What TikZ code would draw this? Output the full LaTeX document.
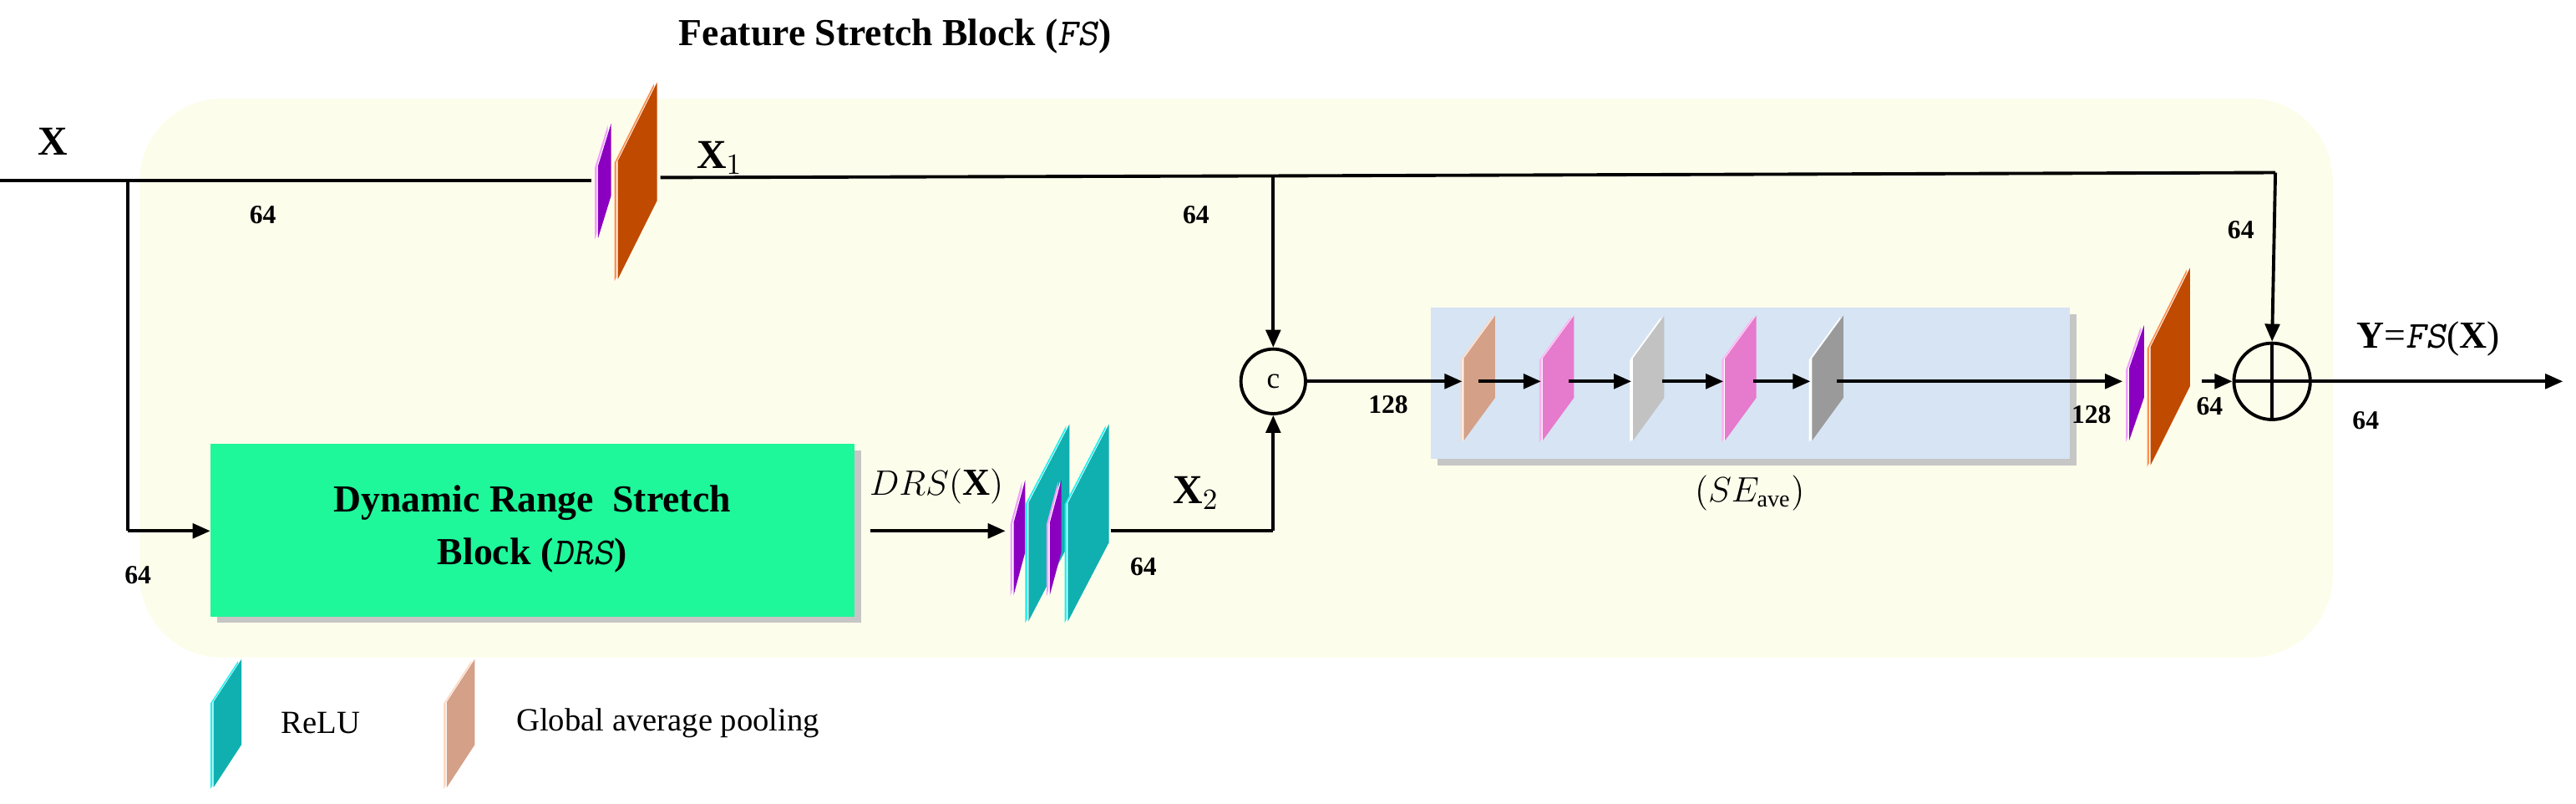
\documentclass[tikz,border=0pt]{standalone}
\usepackage{fontspec}
\setmainfont{Liberation Serif}
\usetikzlibrary{arrows.meta}
\definecolor{bgY}{HTML}{FDFDEB}
\definecolor{seB}{HTML}{D6E4F4}
\definecolor{drsG}{HTML}{1EF79A}
\definecolor{purp}{HTML}{8B00C0}
\definecolor{purpE}{HTML}{F0A0FF}
\definecolor{oran}{HTML}{C04A00}
\definecolor{oranE}{HTML}{FF9050}
\definecolor{teal}{HTML}{10B0B0}
\definecolor{tealE}{HTML}{20F0F0}
\definecolor{tan}{HTML}{D4A088}
\definecolor{tanE}{HTML}{FFD8C0}
\definecolor{pnk}{HTML}{E67ACD}
\definecolor{pnkE}{HTML}{FFB0F0}
\definecolor{lgray}{HTML}{C2C2C2}
\definecolor{dgray}{HTML}{9A9A9A}
\newcommand\myplane[7]{% fill, edge, x, w, yc, h, slant
  \fill[#2] ({#3-2},{#5-#6/2+#7/2+1}) -- ++(0,#6) -- ++(#4,-#7) -- ++(0,-#6) -- cycle;
  \fill[white] ({#3-0.7},{#5-#6/2+#7/2+0.5}) -- ++(0,#6) -- ++(#4,-#7) -- ++(0,-#6) -- cycle;
  \fill[#1] ({#3},{#5-#6/2+#7/2}) -- ++(0,#6) -- ++(#4,-#7) -- ++(0,-#6) -- cycle;}
\tikzset{
  flow/.style={line width=1.1pt,-{Triangle[length=6pt,width=5pt]}},
  ln/.style={line width=1.1pt},
  num/.style={font=\fontsize{9}{10}\selectfont\bfseries},
  big/.style={font=\fontsize{13}{15}\selectfont\bfseries},
}
\begin{document}
\begin{tikzpicture}[x=0.01967cm,y=-0.01967cm]
\useasboundingbox (0,0) rectangle (1568,489);
% background
\fill[bgY, rounded corners=28] (85,60) rectangle (1420,400);
\node[font=\fontsize{13}{15}\selectfont\bfseries] (title) at (545,22) {Feature Stretch Block (\textmd{\textsl{\texttt{FS}}})};
% SE block
\fill[gray!45] (875,191) rectangle (1264,283);
\fill[seB] (871,187) rectangle (1260,279);
\node[font=\fontsize{12}{14}\selectfont] (selab) at (1065,300) {$(SE_{\mathrm{ave}})$};
% DRS block
\fill[gray!45] (132,274) rectangle (524,379);
\fill[drsG] (128,270) rectangle (520,375);
\node[big, align=center] (drs) at (324,322) {Dynamic Range~ Stretch\\[3pt]Block (\textmd{\textsl{\texttt{DRS}}})};
\coordinate (drsW) at (128,323);
\coordinate (drsE) at (530,323);
% coordinates
\coordinate (in) at (0,110);
\coordinate (br) at (78,110);
\coordinate (brD) at (78,323);
\coordinate (s1in) at (360,110);
\coordinate (s1out) at (402,108);
\coordinate (tap) at (775,107);
\coordinate (corner) at (1385,105);
\coordinate (s2in) at (612,323);
\coordinate (s2out) at (676,323);
\coordinate (x2c) at (775,323);
\node[circle, draw, line width=1.1pt, minimum size=22pt, inner sep=0pt, font=\fontsize{10}{10}\selectfont] (cat) at (775,232) {c};
\node[circle, draw, line width=1.1pt, minimum size=26pt, inner sep=0pt] (plus) at (1383,232) {};
\draw[line width=1.1pt] (plus.north) -- (plus.south) (plus.west) -- (plus.east);
% top stack X1
\myplane{purp}{purpE}{364}{8}{110}{44}{26}
\myplane{oran}{oranE}{376}{24}{110}{72}{48}
% DRS stack
\myplane{purp}{purpE}{617}{7}{327}{44}{26}
\myplane{teal}{tealE}{626}{25}{318}{72}{48}
\myplane{purp}{purpE}{639}{7}{327}{44}{26}
\myplane{teal}{tealE}{650}{25}{318}{72}{48}
% SE planes
\myplane{tan}{tanE}{891}{19}{230}{50}{26}
\myplane{pnk}{pnkE}{939}{19}{230}{50}{26}
\myplane{lgray}{white}{994}{19}{230}{50}{26}
\myplane{pnk}{pnkE}{1050}{19}{230}{50}{26}
\myplane{dgray}{white}{1103}{19}{230}{50}{26}
\coordinate (t1) at (890,232); \coordinate (t1o) at (900,232);
\coordinate (p1) at (938,232); \coordinate (p1o) at (955,232);
\coordinate (g1) at (993,232); \coordinate (g1o) at (1012,232);
\coordinate (p2) at (1049,232); \coordinate (p2o) at (1067,232);
\coordinate (g2) at (1102,232); \coordinate (g2o) at (1118,232);
% end stack
\myplane{purp}{purpE}{1296}{9}{233}{44}{26}
\myplane{oran}{oranE}{1309}{24}{223}{72}{48}
\coordinate (s3in) at (1292,232);
\coordinate (s3out) at (1340,232);
\coordinate (out) at (1560,232);
% connectors
\draw[ln] (in) -- (s1in);
\draw[ln] (br) -- (brD);
\draw[flow] (brD) -- (drsW);
\draw[ln] (s1out) -- (tap) -- (corner);
\draw[flow] (corner) -- (plus.north);
\draw[flow] (tap) -- (cat.north);
\draw[flow] (drsE) -- (s2in);
\draw[ln] (s2out) -- (x2c);
\draw[flow] (x2c) -- (cat.south);
\draw[flow] (cat.east) -- (t1);
\draw[flow] (t1o) -- (p1);
\draw[flow] (p1o) -- (g1);
\draw[flow] (g1o) -- (p2);
\draw[flow] (p2o) -- (g2);
\draw[flow] (g2o) -- (s3in);
\draw[flow] (s3out) -- (plus.west);
\draw[flow] (plus.east) -- (out);
% labels
\node[big, font=\fontsize{14}{16}\selectfont\bfseries] (lx) at (32,86) {X};
\node[font=\fontsize{14}{16}\selectfont] (lx1) at (438,96) {$\mathbf{X}_1$};
\node[font=\fontsize{14}{16}\selectfont] (lx2) at (728,300) {$\mathbf{X}_2$};
\node[font=\fontsize{13}{15}\selectfont] (ldrs) at (570,296) {$DRS(\mathbf{X})$};
\node[font=\fontsize{13}{15}\selectfont] (ly) at (1478,206) {$\mathbf{Y}$=\textsl{\texttt{FS}}($\mathbf{X}$)};
\node[num] (n1) at (160,131) {64};
\node[num] (n2) at (728,131) {64};
\node[num] (n3) at (1364,140) {64};
\node[num] (n4) at (84,350) {64};
\node[num] (n5) at (696,345) {64};
\node[num] (n6) at (845,246) {128};
\node[num] (n7) at (1273,252) {128};
\node[num] (n8) at (1345,247) {64};
\node[num] (n9) at (1440,256) {64};
% legend
\myplane{teal}{tealE}{130}{17}{440}{52}{26}
\node[font=\fontsize{11}{13}\selectfont, anchor=west] (lr) at (165,440) {ReLU};
\myplane{tan}{tanE}{272}{17}{440}{52}{26}
\node[font=\fontsize{11}{13}\selectfont, anchor=west] (lg) at (308,440) {Global average pooling};
\end{tikzpicture}
\end{document}
